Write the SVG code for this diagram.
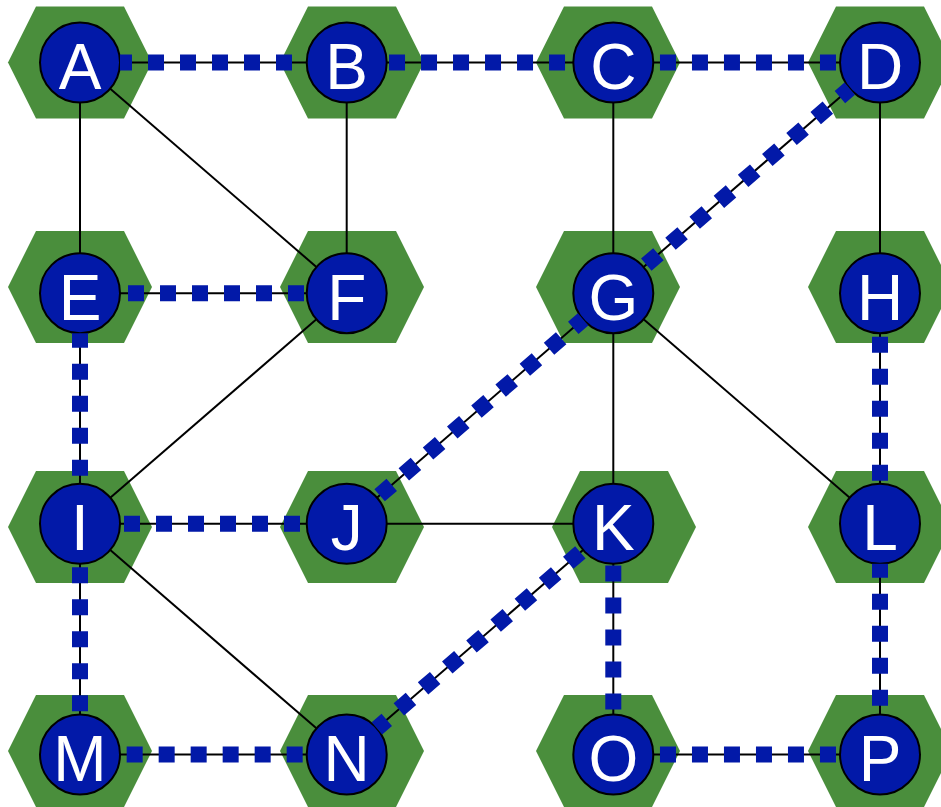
<svg xmlns="http://www.w3.org/2000/svg" xmlns:xlink="http://www.w3.org/1999/xlink" width="941" height="807" viewBox="0 0 941 807">
<style>
.hex{fill:#4a8e3c;stroke:none}
.node circle{fill:#0219a8;stroke:#000;stroke-width:2}
.node text{fill:#fff;font-family:"Liberation Sans",Arial,sans-serif;font-size:64px;text-anchor:middle}
.edge{stroke:#000;stroke-width:2;fill:none}
.hl{stroke:#0219a8;stroke-width:16;stroke-dasharray:16 16;fill:none;stroke-linecap:butt}
</style>
<defs>
<polygon id="hex" class="hex" points="-72,0 -44,-56 44,-56 72,0 44,56 -44,56"/>
</defs>
<rect x="0" y="0" width="941" height="807" fill="#fff"/>
<g id="nodes">
<g id="A" class="node"><use xlink:href="#hex" href="#hex" x="80" y="62.5"/><circle cx="80" cy="62.5" r="40"/><text x="80" y="89">A</text></g>
<g id="B" class="node"><use xlink:href="#hex" href="#hex" x="352" y="62.5"/><circle cx="346.7" cy="62.5" r="40"/><text x="346.7" y="89">B</text></g>
<g id="C" class="node"><use xlink:href="#hex" href="#hex" x="608" y="62.5"/><circle cx="613.3" cy="62.5" r="40"/><text x="613.3" y="89">C</text></g>
<g id="D" class="node"><use xlink:href="#hex" href="#hex" x="880" y="62.5"/><circle cx="880" cy="62.5" r="40"/><text x="880" y="89">D</text></g>
<g id="E" class="node"><use xlink:href="#hex" href="#hex" x="80" y="287"/><circle cx="80" cy="293.2" r="40"/><text x="80" y="319.7">E</text></g>
<g id="F" class="node"><use xlink:href="#hex" href="#hex" x="352" y="287"/><circle cx="346.7" cy="293.2" r="40"/><text x="346.7" y="319.7">F</text></g>
<g id="G" class="node"><use xlink:href="#hex" href="#hex" x="608" y="287"/><circle cx="613.3" cy="293.2" r="40"/><text x="613.3" y="319.7">G</text></g>
<g id="H" class="node"><use xlink:href="#hex" href="#hex" x="880" y="287"/><circle cx="880" cy="293.2" r="40"/><text x="880" y="319.7">H</text></g>
<g id="I" class="node"><use xlink:href="#hex" href="#hex" x="80" y="527"/><circle cx="80" cy="523.8" r="40"/><text x="80" y="550.3">I</text></g>
<g id="J" class="node"><use xlink:href="#hex" href="#hex" x="352" y="527"/><circle cx="346.7" cy="523.8" r="40"/><text x="346.7" y="550.3">J</text></g>
<g id="K" class="node"><use xlink:href="#hex" href="#hex" x="624" y="527"/><circle cx="613.3" cy="523.8" r="40"/><text x="613.3" y="550.3">K</text></g>
<g id="L" class="node"><use xlink:href="#hex" href="#hex" x="880" y="527"/><circle cx="880" cy="523.8" r="40"/><text x="880" y="550.3">L</text></g>
<g id="M" class="node"><use xlink:href="#hex" href="#hex" x="80" y="751"/><circle cx="80" cy="754.5" r="40"/><text x="80" y="781">M</text></g>
<g id="N" class="node"><use xlink:href="#hex" href="#hex" x="352" y="751"/><circle cx="346.7" cy="754.5" r="40"/><text x="346.7" y="781">N</text></g>
<g id="O" class="node"><use xlink:href="#hex" href="#hex" x="608" y="751"/><circle cx="613.3" cy="754.5" r="40"/><text x="613.3" y="781">O</text></g>
<g id="P" class="node"><use xlink:href="#hex" href="#hex" x="880" y="751"/><circle cx="880" cy="754.5" r="40"/><text x="880" y="781">P</text></g>
</g>
<g id="connectors">
<g id="edges" class="edge">
<line x1="120" y1="62.5" x2="306.7" y2="62.5"/>
<line x1="386.7" y1="62.5" x2="573.3" y2="62.5"/>
<line x1="653.3" y1="62.5" x2="840" y2="62.5"/>
<line x1="80" y1="102.5" x2="80" y2="253.2"/>
<line x1="346.7" y1="102.5" x2="346.7" y2="253.2"/>
<line x1="613.3" y1="102.5" x2="613.3" y2="253.2"/>
<line x1="880" y1="102.5" x2="880" y2="253.2"/>
<line x1="110.25" y1="88.67" x2="316.42" y2="267"/>
<line x1="849.75" y1="88.67" x2="643.58" y2="267"/>
<line x1="120" y1="293.2" x2="306.7" y2="293.2"/>
<line x1="80" y1="333.2" x2="80" y2="483.8"/>
<line x1="316.42" y1="319.34" x2="110.25" y2="497.66"/>
<line x1="583.08" y1="319.34" x2="376.92" y2="497.66"/>
<line x1="613.3" y1="333.2" x2="613.3" y2="483.8"/>
<line x1="643.58" y1="319.34" x2="849.75" y2="497.66"/>
<line x1="880" y1="333.2" x2="880" y2="483.8"/>
<line x1="120" y1="523.8" x2="306.7" y2="523.8"/>
<line x1="386.7" y1="523.8" x2="573.3" y2="523.8"/>
<line x1="80" y1="563.8" x2="80" y2="714.5"/>
<line x1="110.25" y1="550" x2="316.42" y2="728.33"/>
<line x1="583.08" y1="550" x2="376.92" y2="728.33"/>
<line x1="613.3" y1="563.8" x2="613.3" y2="714.5"/>
<line x1="880" y1="563.8" x2="880" y2="714.5"/>
<line x1="120" y1="754.5" x2="306.7" y2="754.5"/>
<line x1="653.3" y1="754.5" x2="840" y2="754.5"/>
</g>
<g id="highlight" class="hl">
<line x1="120" y1="62.5" x2="306.7" y2="62.5" stroke-dashoffset="4"/>
<line x1="386.7" y1="62.5" x2="573.3" y2="62.5" stroke-dashoffset="29.67"/>
<line x1="653.3" y1="62.5" x2="840" y2="62.5" stroke-dashoffset="25.33"/>
<line x1="849.75" y1="88.67" x2="643.58" y2="267" stroke-dashoffset="3"/>
<line x1="583.08" y1="319.34" x2="376.92" y2="497.66" stroke-dashoffset="3"/>
<line x1="120" y1="523.8" x2="306.7" y2="523.8" stroke-dashoffset="28"/>
<line x1="120" y1="293.2" x2="306.7" y2="293.2" stroke-dashoffset="24"/>
<line x1="80" y1="333.2" x2="80" y2="483.8" stroke-dashoffset="1.5"/>
<line x1="80" y1="563.8" x2="80" y2="714.5" stroke-dashoffset="28.5"/>
<line x1="120" y1="754.5" x2="306.7" y2="754.5" stroke-dashoffset="25.33"/>
<line x1="376.92" y1="728.33" x2="583.08" y2="550" stroke-dashoffset="3"/>
<line x1="613.3" y1="563.8" x2="613.3" y2="714.5" stroke-dashoffset="30.33"/>
<line x1="653.3" y1="754.5" x2="840" y2="754.5" stroke-dashoffset="25.33"/>
<line x1="880" y1="333.2" x2="880" y2="483.8" stroke-dashoffset="28.5"/>
<line x1="880" y1="563.8" x2="880" y2="714.5" stroke-dashoffset="2"/>
</g>
</g>
</svg>
